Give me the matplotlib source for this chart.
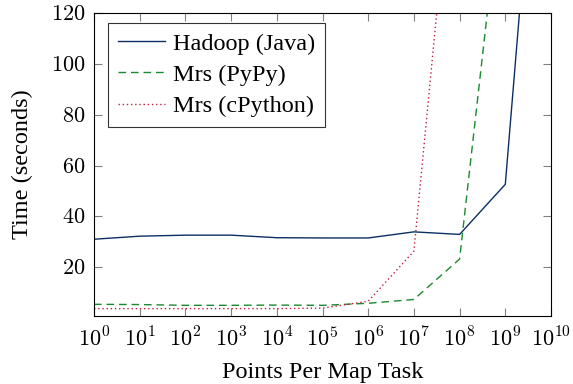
import numpy as np
import matplotlib.pyplot as plt

# points per map task (log scale)
points = [1e0, 1e1, 1e2, 1e3, 1e4, 1e5, 1e6, 1e7, 1e8, 1e9, 1e10]
hadoop = [31, 32.2, 32.6, 32.6, 31.6, 31.5, 31.5, 33.9, 32.9, 52.6, 270]
mrs_pypy = [5.4, 5.3, 5.0, 5.0, 5.1, 5.0, 5.8, 7.3, 23.2, 183]
mrs_cpython = [3.7, 3.7, 3.7, 3.7, 3.7, 3.9, 6.6, 26.3, 214]

plt.rcParams['font.family'] = ['Liberation Serif', 'DejaVu Serif']
plt.rcParams['mathtext.fontset'] = 'cm'
plt.rcParams['font.size'] = 17

fig = plt.figure(figsize=(5.73, 3.84), dpi=100)
ax = fig.add_axes([94 / 573, 1 - 316 / 384, 457 / 573, 303 / 384])

ax.plot(points, hadoop, color='#0b2f63', lw=1.0, label='Hadoop (Java)')
ax.plot(points[:len(mrs_pypy)], mrs_pypy, color='#1a8a2e', lw=1.0,
        ls=(0, (5.5, 3.5)), label='Mrs (PyPy)')
ax.plot(points[:len(mrs_cpython)], mrs_cpython, color='#c0203a', lw=1.0,
        ls=(0, (1, 2)), label='Mrs (cPython)')

ax.set_xscale('log')
ax.set_xlim(1, 1e10)
ax.set_ylim(0.8, 120)
ax.set_xticks([10.0 ** k for k in range(11)])
ax.set_xticklabels([r'$10^{%d}$' % k for k in range(11)])
ax.set_yticks([20, 40, 60, 80, 100, 120])
ax.set_yticklabels([r'$%d$' % v for v in [20, 40, 60, 80, 100, 120]])
ax.tick_params(which='both', direction='in', top=True, right=True,
               color='#808080', labelsize=16)
ax.tick_params(which='major', length=6)
ax.tick_params(axis='x', which='major', pad=8)
ax.tick_params(axis='y', which='major', pad=6)
ax.tick_params(which='minor', length=3.5)
ax.tick_params(axis='y', which='minor', left=False, right=False)

ax.set_xlabel('Points Per Map Task', fontsize=17.5, labelpad=8)
ax.set_ylabel('Time (seconds)', fontsize=17.5, labelpad=13)

leg = ax.legend(loc='upper left', bbox_to_anchor=(0.031, 0.967), fontsize=17.5,
                frameon=True, fancybox=False, edgecolor='black',
                handlelength=1.95, borderpad=0.4, labelspacing=0.38,
                handletextpad=0.3, borderaxespad=0)
leg.get_frame().set_linewidth(0.8)

fig.savefig('out.png', dpi=100)
